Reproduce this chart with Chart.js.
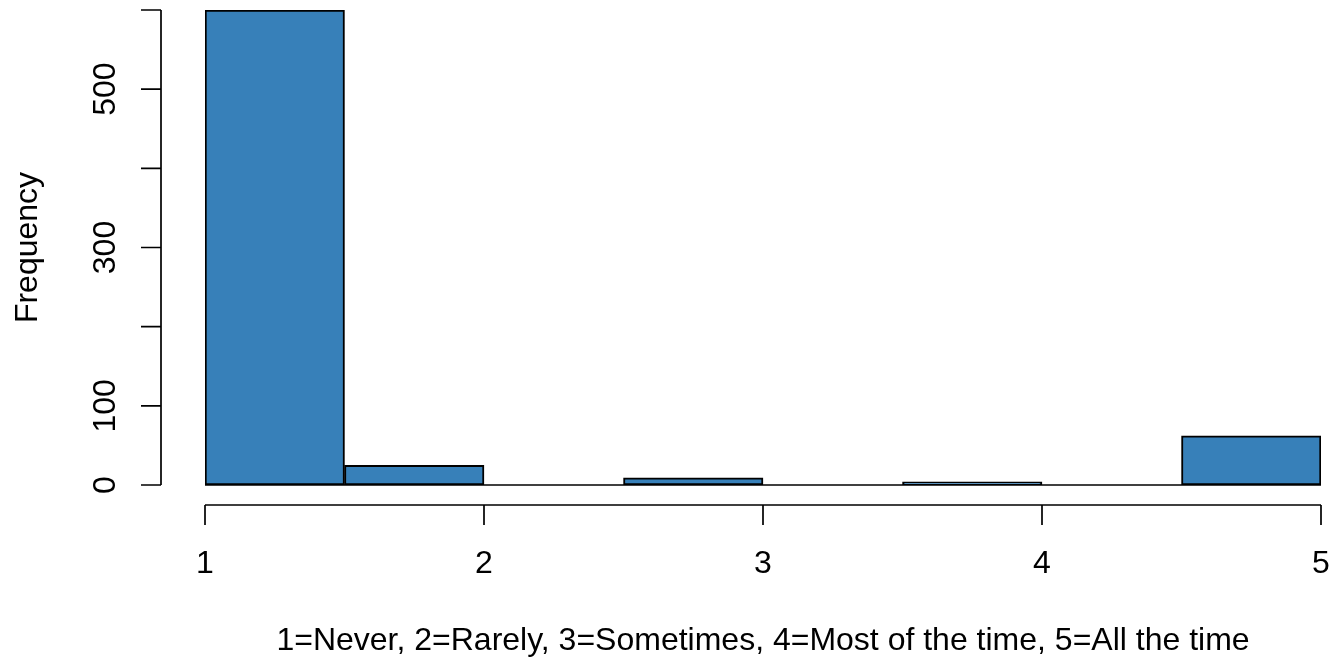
<!DOCTYPE html>
<html>
<head>
<meta charset="utf-8">
<script src="https://cdn.jsdelivr.net/npm/chart.js@4"></script>
<style>
  body { margin: 0; background: #fff; }
  canvas { display: block; }
</style>
</head>
<body>
<canvas id="histChart" width="1331" height="659"></canvas>
<script>
// histogram bins (width 0.5) and their counts
const binMids = [1.25, 1.75, 2.25, 2.75, 3.25, 3.75, 4.25, 4.75];
const binCounts = [600, 25, 0, 9, 0, 4, 0, 62];

// axis ticks as R drew them (some y labels dropped for overlap)
const xTicks = [1, 2, 3, 4, 5];
const yTicks = [0, 100, 200, 300, 400, 500, 600];
const yLabelled = [0, 100, 300, 500];

const xTitle = "1=Never, 2=Rarely, 3=Sometimes, 4=Most of the time, 5=All the time";
const yTitle = "Frequency";

const FONT = "32px 'Liberation Sans', Arial, sans-serif";

// R style axes: detached from the plot region
const rAxes = {
  id: "rAxes",
  beforeDatasetsDraw(chart) {
    const { ctx, scales: { x, y } } = chart;
    ctx.save();
    ctx.strokeStyle = "#000";
    ctx.lineWidth = 1.5;
    ctx.beginPath();
    ctx.moveTo(x.getPixelForValue(xTicks[0]), y.getPixelForValue(0));
    ctx.lineTo(x.getPixelForValue(xTicks[xTicks.length - 1]), y.getPixelForValue(0));
    ctx.stroke();
    ctx.restore();
  },
  afterDraw(chart) {
    const { ctx, chartArea, scales: { x, y } } = chart;
    ctx.save();
    ctx.strokeStyle = "#000";
    ctx.fillStyle = "#000";
    ctx.lineWidth = 1.7;
    ctx.font = FONT;

    // y axis
    const ax = chartArea.left - 44;
    ctx.beginPath();
    ctx.moveTo(ax, y.getPixelForValue(yTicks[0]));
    ctx.lineTo(ax, y.getPixelForValue(yTicks[yTicks.length - 1]));
    yTicks.forEach((v) => {
      const py = y.getPixelForValue(v);
      ctx.moveTo(ax - 20, py);
      ctx.lineTo(ax, py);
    });
    ctx.stroke();
    ctx.textAlign = "center";
    ctx.textBaseline = "alphabetic";
    yLabelled.forEach((v) => {
      ctx.save();
      ctx.translate(chartArea.left - 90, y.getPixelForValue(v));
      ctx.rotate(-Math.PI / 2);
      ctx.fillText(String(v), 0, 0);
      ctx.restore();
    });

    // x axis
    const ay = chartArea.bottom + 20;
    ctx.beginPath();
    ctx.moveTo(x.getPixelForValue(xTicks[0]), ay);
    ctx.lineTo(x.getPixelForValue(xTicks[xTicks.length - 1]), ay);
    xTicks.forEach((v) => {
      const px = x.getPixelForValue(v);
      ctx.moveTo(px, ay);
      ctx.lineTo(px, ay + 20);
    });
    ctx.stroke();
    xTicks.forEach((v) => {
      ctx.fillText(String(v), x.getPixelForValue(v), chartArea.bottom + 88);
    });

    // titles
    ctx.fillText(xTitle, (chartArea.left + chartArea.right) / 2, chartArea.bottom + 165);
    ctx.save();
    ctx.translate(37, (chartArea.top + chartArea.bottom) / 2);
    ctx.rotate(-Math.PI / 2);
    ctx.fillText(yTitle, 0, 0);
    ctx.restore();

    ctx.restore();
  },
};

const ctx = document.getElementById("histChart").getContext("2d");
const chart = new Chart(ctx, {
  type: "bar",
  data: {
    datasets: [
      {
        label: yTitle,
        data: binMids.map((m, i) => ({ x: m, y: binCounts[i] })),
        backgroundColor: "#3780b9",
        borderColor: "#000",
        borderWidth: 2,
        borderSkipped: false,
        barPercentage: 1,
        categoryPercentage: 1,
      },
    ],
  },
  options: {
    responsive: false,
    animation: false,
    layout: { padding: { left: 205, right: 10, top: 10, bottom: 174 } },
    plugins: { legend: { display: false }, tooltip: { enabled: false } },
    scales: {
      x: { type: "linear", display: false, offset: false, min: 1, max: 5, ticks: { stepSize: 1 } },
      y: { display: false, min: 0, max: 600, ticks: { stepSize: 100 } },
    },
  },
  plugins: [rAxes],
});
</script>
</body>
</html>
